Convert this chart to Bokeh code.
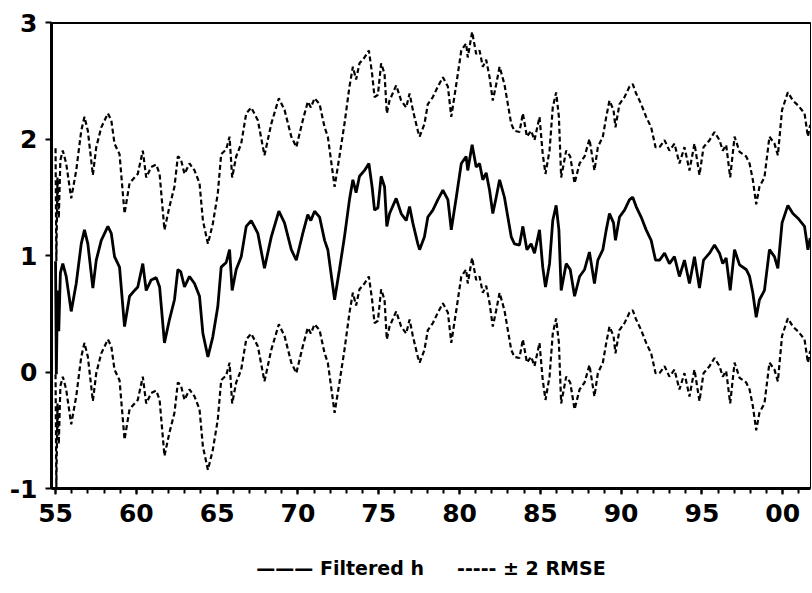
from bokeh.plotting import figure
from bokeh.models import ColumnDataSource, Range1d, FixedTicker, LinearAxis, Title
from bokeh.embed import file_html
from bokeh.resources import INLINE

# time in years since 1900 (decimal)
t = [55.00, 55.05, 55.12, 55.20, 55.30, 55.45, 55.66, 55.97, 56.28, 56.59, 56.79, 57.00,
     57.31, 57.52, 57.83, 58.24, 58.45, 58.65, 58.96, 59.27, 59.58, 59.89, 60.09, 60.40,
     60.61, 60.92, 61.23, 61.44, 61.74, 62.05, 62.36, 62.57, 62.75, 62.98, 63.29, 63.60,
     63.91, 64.12, 64.43, 64.73, 65.04, 65.25, 65.56, 65.77, 65.93, 66.18, 66.49, 66.80,
     67.11, 67.52, 67.93, 68.35, 68.82, 69.17, 69.59, 69.90, 70.30, 70.61, 70.80, 71.03,
     71.34, 71.65, 71.85, 72.27, 72.57, 72.88, 73.19, 73.40, 73.60, 73.81, 74.12, 74.39,
     74.59, 74.74, 74.95, 75.15, 75.36, 75.50, 75.67, 76.08, 76.39, 76.70, 76.91, 77.11,
     77.42, 77.53, 77.83, 78.04, 78.35, 78.66, 78.97, 79.28, 79.49, 79.80, 80.11, 80.41,
     80.51, 80.78, 81.03, 81.24, 81.44, 81.65, 81.86, 82.06, 82.27, 82.48, 82.78, 82.99,
     83.20, 83.40, 83.71, 83.92, 84.17, 84.43, 84.64, 84.95, 85.15, 85.32, 85.57, 85.77,
     85.98, 86.15, 86.29, 86.60, 86.85, 87.12, 87.43, 87.74, 88.04, 88.35, 88.56, 88.87,
     89.08, 89.28, 89.53, 89.65, 89.90, 90.21, 90.52, 90.72, 90.93, 91.24, 91.55, 91.86,
     92.13, 92.38, 92.69, 92.99, 93.30, 93.61, 93.92, 94.23, 94.54, 94.85, 95.10, 95.47,
     95.78, 96.09, 96.29, 96.50, 96.75, 97.02, 97.33, 97.74, 97.95, 98.15, 98.36, 98.56,
     98.87, 99.18, 99.49, 99.70, 99.96, 100.32, 100.63, 100.94, 101.35, 101.56, 101.70]

# filtered h
h = [0.95, -0.02, 0.70, 0.35, 0.85, 0.93, 0.82, 0.52, 0.76, 1.10, 1.22, 1.10,
     0.72, 0.96, 1.13, 1.25, 1.19, 0.99, 0.90, 0.39, 0.65, 0.70, 0.73, 0.93,
     0.70, 0.79, 0.81, 0.73, 0.25, 0.45, 0.62, 0.88, 0.86, 0.73, 0.82, 0.76,
     0.65, 0.33, 0.13, 0.30, 0.56, 0.90, 0.94, 1.05, 0.70, 0.88, 0.99, 1.25,
     1.30, 1.19, 0.89, 1.16, 1.38, 1.28, 1.05, 0.96, 1.19, 1.35, 1.30, 1.38,
     1.33, 1.13, 1.05, 0.62, 0.88, 1.16, 1.48, 1.65, 1.54, 1.68, 1.73, 1.79,
     1.59, 1.39, 1.41, 1.68, 1.59, 1.25, 1.36, 1.49, 1.36, 1.30, 1.42, 1.28,
     1.10, 1.05, 1.16, 1.33, 1.39, 1.48, 1.56, 1.48, 1.22, 1.50, 1.79, 1.85,
     1.73, 1.95, 1.76, 1.79, 1.65, 1.71, 1.56, 1.36, 1.50, 1.65, 1.50, 1.33,
     1.16, 1.10, 1.09, 1.25, 1.05, 1.10, 1.02, 1.22, 0.90, 0.73, 0.93, 1.30,
     1.43, 1.22, 0.70, 0.93, 0.88, 0.65, 0.82, 0.88, 1.03, 0.76, 0.96, 1.05,
     1.22, 1.36, 1.28, 1.13, 1.33, 1.39, 1.48, 1.50, 1.42, 1.33, 1.22, 1.13,
     0.96, 0.96, 1.02, 0.93, 0.99, 0.82, 0.96, 0.76, 0.99, 0.72, 0.96, 1.02,
     1.09, 1.02, 0.93, 0.98, 0.70, 1.05, 0.92, 0.88, 0.82, 0.68, 0.47, 0.62,
     0.70, 1.05, 0.99, 0.89, 1.28, 1.43, 1.36, 1.32, 1.25, 1.05, 1.15]

# two times the root mean squared error (band half-width)
TWO_RMSE = 0.97

x_ticks = [1955, 1960, 1965, 1970, 1975, 1980, 1985, 1990, 1995, 2000]
x_tick_labels = ["55", "60", "65", "70", "75", "80", "85", "90", "95", "00"]
y_ticks = [-1, 0, 1, 2, 3]
y_tick_labels = ["-1", "0", "1", "2", "3"]
legend_text = ("\u2014\u2014\u2014\u00a0Filtered h\u00a0\u00a0\u00a0\u00a0\u00a0"
               "-----\u00a0\u00b1 2 RMSE")

years = [1900 + v for v in t]
upper = [v + TWO_RMSE for v in h]
lower = [v - TWO_RMSE for v in h]

src = ColumnDataSource(dict(x=years, h=h, up=upper, lo=lower))

FONT = "DejaVu Sans"

p = figure(frame_width=759, frame_height=466, output_backend="svg", toolbar_location=None,
           x_range=Range1d(1954.75, 2001.72), y_range=Range1d(-1, 3),
           min_border_left=51, min_border_right=1, min_border_top=22,
           min_border_bottom=0, x_axis_type=None, y_axis_type=None)
p.grid.visible = False
p.outline_line_color = "black"
p.outline_line_width = 1
p.background_fill_color = "white"
p.border_fill_color = "white"

# axes
xaxis = LinearAxis(ticker=FixedTicker(ticks=x_ticks, minor_ticks=list(range(1955, 2002))),
                   major_label_overrides={k: v for k, v in zip(x_ticks, x_tick_labels)})
yaxis = LinearAxis(ticker=FixedTicker(ticks=y_ticks),
                   major_label_overrides={k: v for k, v in zip(y_ticks, y_tick_labels)})
for ax in (xaxis, yaxis):
    ax.axis_line_width = 3
    ax.axis_line_color = "black"
    ax.major_tick_line_width = 2
    ax.minor_tick_line_width = 2
    ax.major_tick_in = 0
    ax.major_tick_out = 6
    ax.minor_tick_in = 0
    ax.minor_tick_out = 5
    ax.major_label_text_font = FONT
    ax.major_label_text_font_style = "bold"
    ax.major_label_text_font_size = "25px"
    ax.major_label_text_color = "black"
xaxis.major_label_standoff = 9
yaxis.major_label_standoff = 8
yaxis.minor_tick_out = 0
p.add_layout(yaxis, "left")
p.add_layout(xaxis, "below")

p.line("x", "h", source=src, line_color="black", line_width=2.8)
p.line("x", "up", source=src, line_color="black", line_width=2.2, line_dash="5 3")
p.line("x", "lo", source=src, line_color="black", line_width=2.2, line_dash="5 3")

# thick top border of the frame
p.line(x=[1954.75, 2001.72], y=[3, 3], line_color="black", line_width=3)

legend = Title(text=legend_text, align="center", text_font=FONT,
               text_font_style="bold", text_font_size="19px", text_color="black",
               standoff=60)
p.add_layout(legend, "below")

open("out.html", "w").write(file_html(p, INLINE))
